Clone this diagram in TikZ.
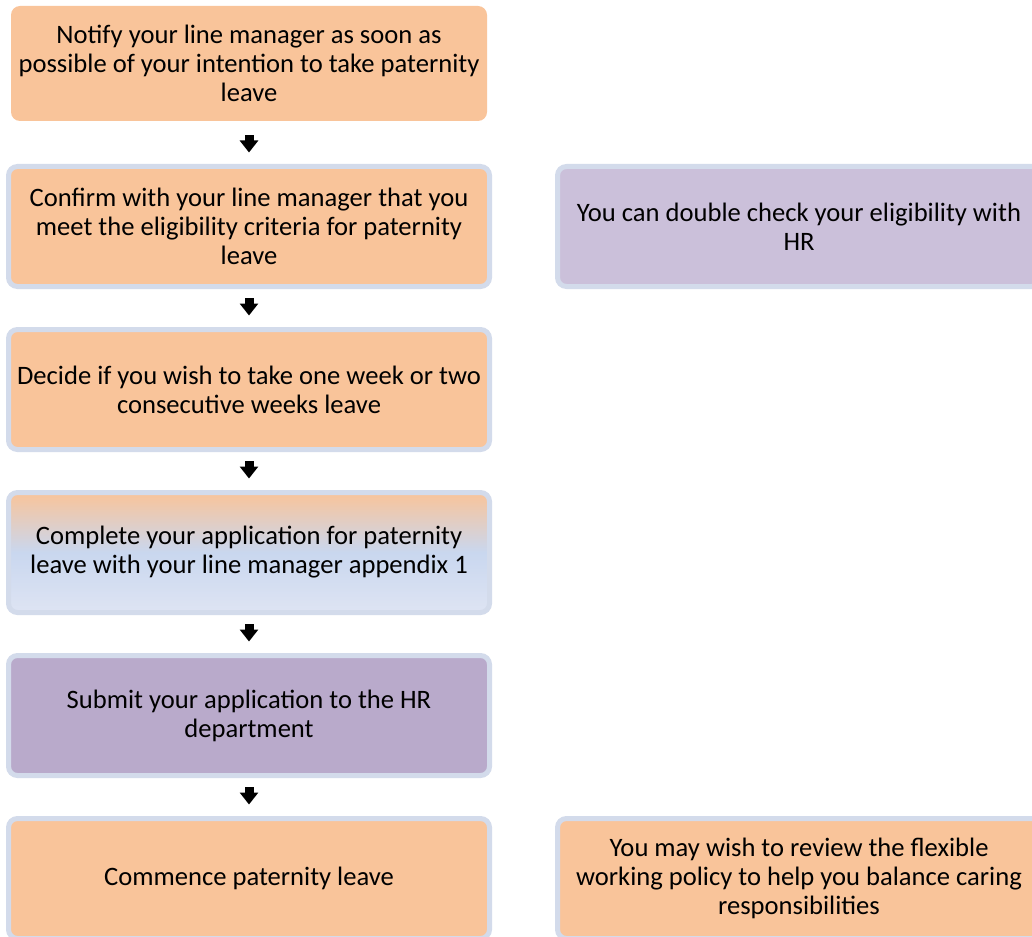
\documentclass[tikz,border=0pt]{standalone}
\usepackage{fontspec}
\setmainfont{Carlito}
\usetikzlibrary{arrows.meta}
\definecolor{orangeclair}{HTML}{F9C49A}
\definecolor{bordbleu}{HTML}{D3DBEB}
\definecolor{mauveclair}{HTML}{CBC0DA}
\definecolor{mauve}{HTML}{B9AACB}
\definecolor{bleuclair}{HTML}{C9D7EF}
\definecolor{bleupale}{HTML}{DEE4F3}
\begin{document}
\begin{tikzpicture}[x=1pt,y=-1pt]
\tikzset{etape/.style={rounded corners=9pt, draw=bordbleu, line width=5pt, fill=orangeclair, minimum width=481pt, minimum height=120pt, inner sep=0pt, align=center, font=\fontsize{26.6}{29}\selectfont}}
\tikzset{note/.style={etape, fill=mauveclair, minimum width=483pt}}
\tikzset{fleche/.style={-{Triangle[width=18pt,length=12pt]}, line width=9pt, shorten <=9pt, shorten >=11.5pt}}
\useasboundingbox (0,0) rectangle (1032,936);
\clip (0,0) rectangle (1032,936);
\fill[white] (0,0) rectangle (1032,936);
\node[etape, draw=none, minimum width=476pt, minimum height=115pt] (E1) at (249,63.5) {Notify your line manager as soon as\\possible of your intention to take paternity\\leave};
\node[etape] (E2) at (249,226.5) {Confirm with your line manager that you\\meet the eligibility criteria for paternity\\leave};
\node[etape] (E3) at (249,389.5) {Decide if you wish to take one week or two\\consecutive weeks leave};
\node[etape, top color=orangeclair, bottom color=bleupale, middle color=bleuclair] (E4) at (249,552.5) {Complete your application for paternity\\leave with your line manager appendix 1};
\node[etape, fill=mauve] (E5) at (249,715.5) {Submit your application to the HR\\department};
\node[etape] (E6) at (249,878.5) {Commence paternity leave};
\node[note] (N1) at (799,226.5) {You can double check your eligibility with\\HR};
\node[note, fill=orangeclair] (N2) at (799,878.5) {You may wish to review the flexible\\working policy to help you balance caring\\responsibilities};
\draw[fleche, shorten <=12pt] (E1.south) -- (E2.north);
\draw[fleche] (E2.south) -- (E3.north);
\draw[fleche] (E3.south) -- (E4.north);
\draw[fleche] (E4.south) -- (E5.north);
\draw[fleche] (E5.south) -- (E6.north);
\end{tikzpicture}
\end{document}
